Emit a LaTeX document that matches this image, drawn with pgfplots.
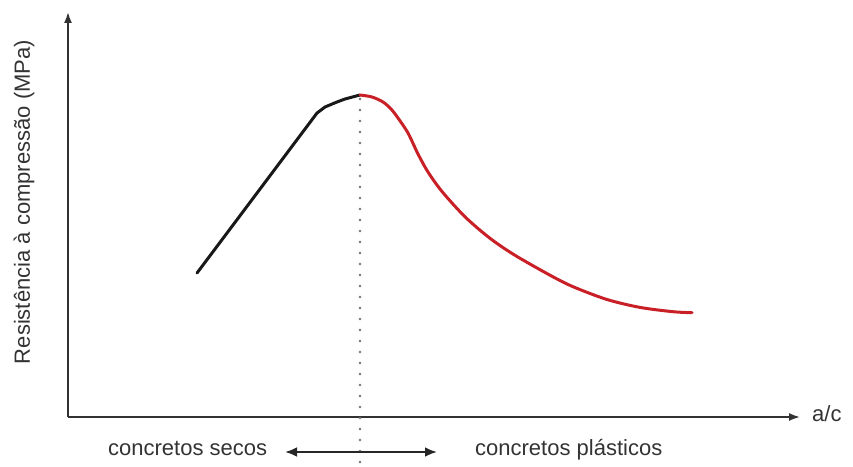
\documentclass[border=0pt]{standalone}
\usepackage{pgfplots}
\pgfplotsset{compat=1.18}
\usepackage{fontspec}
\setmainfont{Liberation Sans}
\usetikzlibrary{arrows.meta}
\definecolor{curvered}{RGB}{200,32,38}
\definecolor{axisgray}{RGB}{50,50,50}
\begin{document}
\begin{tikzpicture}
\begin{axis}[
  x=1pt, y=1pt,
  xmin=0, xmax=732, ymin=0, ymax=405,
  axis lines=left,
  axis line style={-{Latex[length=11pt,width=8pt]}, line width=1.8pt, color=axisgray},
  xtick=\empty, ytick=\empty,
  clip=false,
  enlargelimits=false,
]
\addplot[color=black!90, line width=3pt, line join=round, line cap=round] coordinates {
  (129,144) (249,304) (257,310) (269,315) (277,318) (292,322)
};
\addplot[color=curvered, line width=3pt, smooth, line cap=round] coordinates {
  (292,322) (304,320) (315,315) (323,308) (330,299) (340,284) (350,263)
  (360,245) (374,225.5) (397,200.2) (422,178.7) (447,161.7) (482,141.8) (505,130.3)
  (539,117.5) (572,109.6) (605,105.3) (624,104.3)
};
\addplot[color=black!55, line width=2.6pt, line cap=round, dash pattern=on 0pt off 11pt] coordinates {
  (292,318) (292,-49)
};
\addplot[color=black!85, line width=2.6pt, {Latex[length=12pt,width=10pt]}-{Latex[length=12pt,width=10pt]}] coordinates {
  (217,-35) (369,-35)
};
\node[anchor=base west, inner sep=0pt, font=\fontsize{22}{26}\selectfont, text=black!80] at (axis cs:40,-38) {concretos secos};
\node[anchor=base west, inner sep=0pt, font=\fontsize{22}{26}\selectfont, text=black!80] at (axis cs:407,-38) {concretos plásticos};
\node[anchor=base west, inner sep=0pt, font=\fontsize{22}{26}\selectfont, text=black!80] at (axis cs:744,-4) {a/c};
\node[anchor=base, rotate=90, inner sep=0pt, font=\fontsize{22}{26}\selectfont, text=black!80] at (axis cs:-38,215) {Resistência à compressão (MPa)};
\coordinate (BL) at (axis cs:-68,-49);
\coordinate (TR) at (axis cs:785,417);
\end{axis}
\pgfresetboundingbox
\useasboundingbox (BL) rectangle (TR);
\end{tikzpicture}
\end{document}
